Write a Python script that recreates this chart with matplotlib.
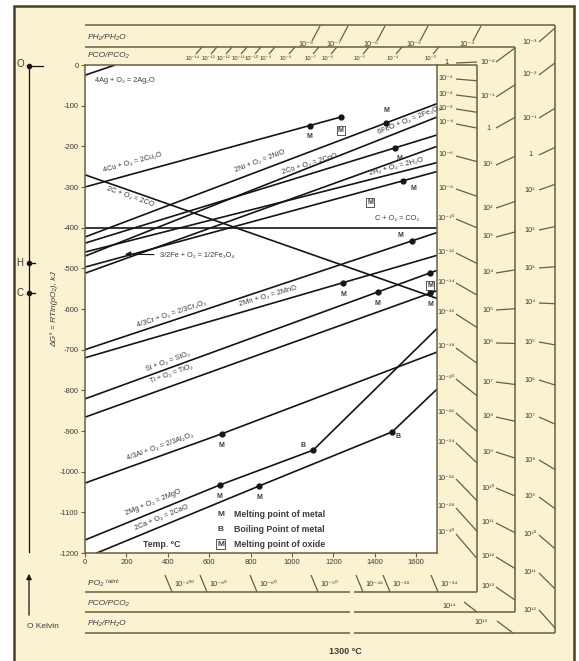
import numpy as np
import matplotlib.pyplot as plt
from matplotlib.patches import Rectangle

plt.rcParams["font.family"] = ["Liberation Sans Narrow", "Liberation Sans", "DejaVu Sans"]

W, H = 579, 661
CREAM = "#fbf2d2"
FRAME = "#6c5e40"
BORDER = "#4b3d2a"
INK = "#151515"
TXT = "#3b3b3b"

# ── reaction lines: temperature (°C) vs standard free energy (kJ per mol O2) ──
ag_T, ag_G = [0, 145], [-25, 0]
cu_T, cu_G = [0, 1235], [-300, -128]
co_T, co_G = [0, 1700], [-270, -574]
co2_T, co2_G = [0, 1700], [-400, -400]
ni_T, ni_G = [0, 1700], [-423, -95]
cobalt_T, cobalt_G = [0, 1700], [-438, -172]
h2o_T, h2o_G = [0, 1700], [-460, -240]
feo_T, feo_G = [0, 1700], [-497, -262]
fe3o4_T, fe3o4_G = [0, 1700], [-512, -200]
wus_T, wus_G = [0, 1700], [-470, -128]
cr_T, cr_G = [0, 1700], [-700, -412]
mn_T, mn_G = [0, 1700], [-720, -468]
si_T, si_G = [0, 1700], [-821, -505]
ti_T, ti_G = [0, 1700], [-866, -555]
al_T, al_G = [0, 660, 1700], [-1028, -907, -706]
mg_T, mg_G = [0, 650, 1102, 1700], [-1168, -1033, -947, -648]
ca_T, ca_G = [0, 842, 1484, 1700], [-1212, -1035, -902, -797]

# melting (M), boiling (B) and oxide melting ([M]) points, °C
metal_melt = [("cu", 1085), ("ni", 1455), ("cobalt", 1495), ("feo", 1538),
              ("cr", 1580), ("mn", 1246), ("si", 1414), ("ti", 1668),
              ("al", 660), ("mg", 650), ("ca", 842)]
metal_boil = [("mg", 1102), ("ca", 1484)]
oxide_melt = [("cu", 1235), ("si", 1667), ("feo", 1377)]

temp_ticks = [0, 200, 400, 600, 800, 1000, 1200, 1400, 1600]
dg_ticks = list(range(0, -1201, -100))

# nomogram scales (exponents of 10)
po2_right = [0, -1, -2, -3, -4, -6, -8, -10, -12, -14, -16, -18, -20, -22, -24, -26, -28, -30]
po2_right_y = [62, 78, 94, 108, 123, 155, 188, 218, 252, 282, 313, 347, 378, 412, 442, 478, 507, 533]
po2_bottom = [-100, -80, -60, -50, -42, -38, -34]
po2_bottom_x = [165, 200, 250, 311, 356, 383, 431]
pco_right = [-2, -1, 0, 1, 2, 3, 4, 5, 6, 7, 8, 9, 10, 11, 12, 13]
pco_right_y = [62, 97, 128, 165, 208, 237, 273, 310, 343, 382, 417, 452, 488, 523, 557, 587]
pco_top = [-14, -13, -12, -11, -10, -9, -8, -7, -6, -5, -4, -3]
pco_top_x = [193, 208, 223, 238, 252, 266, 286, 310, 328, 360, 393, 430]
ph2_right = [-3, -2, -1, 0, 1, 2, 3, 4, 5, 6, 7, 8, 9, 10, 11, 12]
ph2_right_y = [42, 75, 118, 155, 190, 230, 268, 303, 342, 380, 417, 460, 497, 535, 573, 610]
ph2_top = [-8, -7, -6, -5, -4]
ph2_top_x = [306, 334, 371, 414, 467]

SUP = str.maketrans("-0123456789", "⁻⁰¹²³⁴⁵⁶⁷⁸⁹")


def pw(e):
    return "1" if e == 0 else "10" + str(e).translate(SUP)


fig = plt.figure(figsize=(W / 100, H / 100), dpi=100)

# ── background frame in pixel coordinates ─────────────────────────────────────
deco = fig.add_axes([0, 0, 1, 1])
deco.set_xlim(0, W)
deco.set_ylim(H, 0)
deco.axis("off")
deco.add_patch(Rectangle((14, 6), 560, 660, facecolor=CREAM, edgecolor=BORDER, lw=1.8))


def seg(x0, y0, x1, y1, c=FRAME, lw=1.1):
    deco.plot([x0, x1], [y0, y1], color=c, lw=lw, solid_capstyle="butt")


# nested L-shaped scale boxes
seg(85, 25, 555, 25)
seg(85, 47, 515, 47)
seg(437, 65, 477, 65)
seg(477, 65, 477, 592)
seg(515, 47, 515, 612)
seg(555, 25, 555, 633)
for y, xr in [(592, 477), (612, 515), (633, 555)]:
    seg(85, y, 350, y)
    seg(354, y, xr, y)

fs_s = 5.2
deco.text(88, 37, "PH₂/PH₂O", fontsize=6, style="italic", color=TXT, va="center")
deco.text(88, 56, "PCO/PCO₂", fontsize=6, style="italic", color=TXT, va="center")
deco.text(88, 583, "PO₂ ⁽ᵃᵗᵐ⁾", fontsize=6, style="italic", color=TXT, va="center")
deco.text(88, 603, "PCO/PCO₂", fontsize=6, style="italic", color=TXT, va="center")
deco.text(88, 624, "PH₂/PH₂O", fontsize=6, style="italic", color=TXT, va="center")
deco.text(345, 651, "1300 °C", fontsize=6.5, weight="bold", color=TXT, ha="center", va="center")

# pO2 column on the right
for e, y in zip(po2_right, po2_right_y):
    deco.text(446, y, pw(e), fontsize=fs_s, color=TXT, ha="center", va="center")
    dy = 0 if e == 0 else 2 + 0.05 * (y - 62)
    seg(456, y + 1, 477, y + dy, lw=0.9)
# pO2 row along the bottom
for e, x in zip(po2_bottom, po2_bottom_x):
    seg(x, 575, x + 7, 592, lw=0.9)
    deco.text(x + 9, 585, pw(e), fontsize=fs_s, color=TXT, ha="left", va="center")

# CO/CO2 column and rows
for e, y in zip(pco_right, pco_right_y):
    deco.text(488, y, pw(e), fontsize=fs_s, color=TXT, ha="center", va="center")
    dy = -14 + (y - 62) * 27 / 525
    seg(496, y, 515, y + dy, lw=0.9)
for e, x in zip(pco_top, pco_top_x):
    deco.text(x, 58, pw(e), fontsize=4.2, color=TXT, ha="center", va="center")
    seg(x + 3, 54, x + 9, 47, lw=0.9)
deco.text(449, 606, pw(14), fontsize=fs_s, color=TXT, ha="center", va="center")
seg(464, 602, 477, 612, lw=0.9)

# H2/H2O column and rows
for e, y in zip(ph2_right, ph2_right_y):
    deco.text(530, y, pw(e), fontsize=fs_s, color=TXT, ha="center", va="center")
    dy = -14 + (y - 42) * 32 / 568
    seg(539, y, 555, y + dy, lw=0.9)
for e, x in zip(ph2_top, ph2_top_x):
    deco.text(x, 44, pw(e), fontsize=fs_s, color=TXT, ha="center", va="center")
    seg(x + 6, 41, x + 14, 26, lw=0.9)
deco.text(481, 623, pw(13), fontsize=fs_s, color=TXT, ha="center", va="center")
seg(497, 621, 513, 633, lw=0.9)

# absolute-zero oxygen scale on the left
deco.plot([29, 29], [66, 552], color=INK, lw=0.9)
for lab, y in [("O", 64), ("H", 263), ("C", 293)]:
    deco.text(20, y, lab, fontsize=7, color=TXT, ha="center", va="center")
    deco.plot([29], [y + 2 if lab == "O" else y], "o", ms=3, color=INK)
deco.plot([29, 43], [66, 66], color=INK, lw=0.9)
deco.plot([29, 35], [263, 263], color=INK, lw=0.9)
deco.plot([29, 35], [293, 293], color=INK, lw=0.9)
deco.annotate("", xy=(29, 571), xytext=(29, 618),
              arrowprops=dict(arrowstyle="-|>", color=INK, lw=0.9, mutation_scale=8))
deco.text(27, 626, "O Kelvin", fontsize=6, color=TXT, ha="left", va="center")

# ── main Ellingham diagram ────────────────────────────────────────────────────
ax = fig.add_axes([85 / W, 1 - 553 / H, (437 - 85) / W, (553 - 65) / H])
ax.set_xlim(0, 1700)
ax.set_ylim(-1200, 0)
ax.set_facecolor("white")
for s in ax.spines.values():
    s.set_color(FRAME)
    s.set_linewidth(1.1)
ax.set_xticks(temp_ticks)
ax.set_yticks(dg_ticks)
ax.set_xticklabels([str(t) for t in temp_ticks])
ax.set_yticklabels([str(g) for g in dg_ticks])
ax.tick_params(direction="out", length=3, width=0.8, color=FRAME, labelsize=5.5,
               labelcolor=TXT, pad=1.5)
ax.set_ylabel("ΔG° = RTln(pO₂), kJ", fontsize=6, style="italic", color=TXT, labelpad=1)

lines = {
    "ag": (ag_T, ag_G), "cu": (cu_T, cu_G), "co": (co_T, co_G), "co2": (co2_T, co2_G),
    "ni": (ni_T, ni_G), "cobalt": (cobalt_T, cobalt_G), "h2o": (h2o_T, h2o_G),
    "feo": (feo_T, feo_G), "fe3o4": (fe3o4_T, fe3o4_G), "wus": (wus_T, wus_G),
    "cr": (cr_T, cr_G), "mn": (mn_T, mn_G), "si": (si_T, si_G), "ti": (ti_T, ti_G),
    "al": (al_T, al_G), "mg": (mg_T, mg_G), "ca": (ca_T, ca_G),
}
for T, G in lines.values():
    ax.plot(T, G, color=INK, lw=1.2, solid_capstyle="butt", clip_on=True)


def angle_at(key, t):
    T, G = lines[key]
    g0, g1 = np.interp([t - 50, t + 50], T, G)
    p = ax.transData.transform([(t - 50, g0), (t + 50, g1)])
    return np.degrees(np.arctan2(p[1][1] - p[0][1], p[1][0] - p[0][0]))


# reaction labels: (line, temperature along line, offset in kJ, text)
labels = [
    ("cu", 232, 27, "4Cu + O₂ = 2Cu₂O"),
    ("co", 217, -15, "2C + O₂ = 2CO"),
    ("ni", 846, 22, "2Ni + O₂ = 2NiO"),
    ("cobalt", 1087, 25, "2Co + O₂ = 2CoO"),
    ("h2o", 1503, 15, "2H₂ + O₂ = 2H₂O"),
    ("wus", 1570, 18, "6FeO + O₂ = 2Fe₃O₄"),
    ("cr", 420, 15, "4/3Cr + O₂ = 2/3Cr₂O₃"),
    ("mn", 885, 20, "2Mn + O₂ = 2MnO"),
    ("si", 401, 17, "Si + O₂ = SiO₂"),
    ("ti", 416, 30, "Ti + O₂ = TiO₂"),
    ("al", 362, 22, "4/3Al + O₂ = 2/3Al₂O₃"),
    ("mg", 329, 24, "2Mg + O₂ = 2MgO"),
    ("ca", 372, 20, "2Ca + O₂ = 2CaO"),
]
for key, t, off, txt in labels:
    T, G = lines[key]
    g = np.interp(t, T, G) + off
    ax.text(t, g, txt, fontsize=5.3, color=TXT, rotation=angle_at(key, t),
            rotation_mode="anchor", ha="center", va="center")

ax.text(50, -38, "4Ag + O₂ = 2Ag₂O", fontsize=5.3, color=TXT, ha="left", va="center")
ax.text(1400, -377, "C + O₂ = CO₂", fontsize=5.3, color=TXT, ha="left", va="center")
ax.annotate("3/2Fe + O₂ = 1/2Fe₃O₄", xy=(180, -465), xytext=(360, -468),
            fontsize=5.3, color=TXT, va="center",
            arrowprops=dict(arrowstyle="-|>", color=INK, lw=0.8, mutation_scale=8))

# label offsets (dT, dG) for the marked points
melt_offsets = {"ni": (0, 30), "cobalt": (25, -25), "feo": (50, -20), "cr": (-55, 12)}
mk = dict(ms=3.5, color=INK, zorder=4)
for key, t in metal_melt:
    g = np.interp(t, *lines[key])
    dt, dg = melt_offsets.get(key, (0, -28))
    ax.plot(t, g, "o", **mk)
    ax.text(t + dt, g + dg, "M", fontsize=5, weight="bold", color=TXT, ha="center", va="center")
boil_offsets = {"mg": (-48, 12), "ca": (30, -12)}
for key, t in metal_boil:
    g = np.interp(t, *lines[key])
    dt, dg = boil_offsets[key]
    ax.plot(t, g, "o", **mk)
    ax.text(t + dt, g + dg, "B", fontsize=5, weight="bold", color=TXT, ha="center", va="center")
for key, t in oxide_melt:
    g = np.interp(t, *lines[key])
    if key != "feo":
        ax.plot(t, g, "o", **mk)
    ax.text(t, g - 32, "M", fontsize=5, weight="bold", color=TXT, ha="center", va="center",
            bbox=dict(boxstyle="square,pad=0.15", fc="none", ec=TXT, lw=0.6))

# key
ax.text(655, -1105, "M", fontsize=6, weight="bold", color=TXT, ha="center", va="center")
ax.text(655, -1143, "B", fontsize=6, weight="bold", color=TXT, ha="center", va="center")
ax.text(655, -1178, "M", fontsize=6, weight="bold", color=TXT, ha="center", va="center",
        bbox=dict(boxstyle="square,pad=0.15", fc="none", ec=TXT, lw=0.6))
for y, txt in [(-1105, "Melting point of metal"), (-1143, "Boiling Point of metal"),
               (-1178, "Melting point of oxide")]:
    ax.text(720, y, txt, fontsize=6.3, weight="bold", color=TXT, ha="left", va="center")
ax.text(280, -1178, "Temp. °C", fontsize=6.3, weight="bold", color=TXT, ha="left", va="center")

fig.savefig("out.png", dpi=100)
